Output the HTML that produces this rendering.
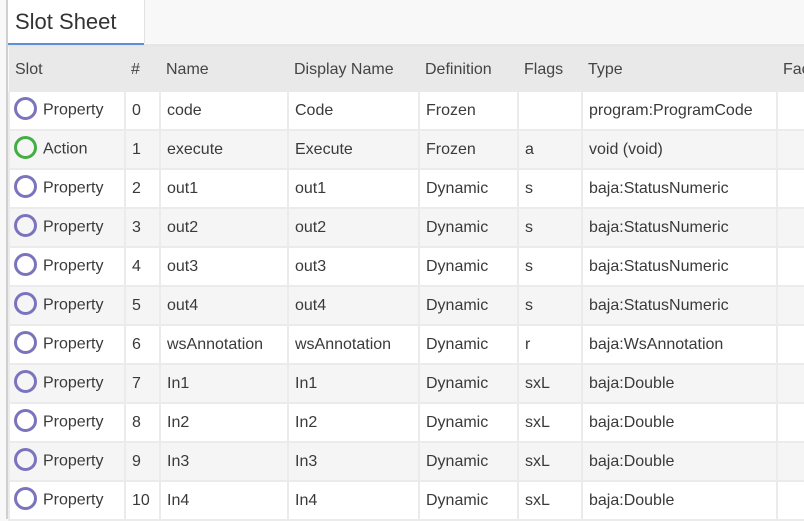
<!DOCTYPE html>
<html><head><meta charset="utf-8"><style>
html,body{margin:0;padding:0;}
body{width:804px;height:519px;overflow:hidden;background:#f8f8f8;font-family:"Liberation Sans",sans-serif;color:#3a3a3a;position:relative;}
.lb{position:absolute;left:6px;top:0;width:2px;height:519px;background:#cfcfcf;}
.tab{position:absolute;left:8px;top:0;width:136px;height:43px;background:#fff;border-right:1px solid #e2e2e2;}
.tab span{position:absolute;left:7px;top:9px;font-size:22px;color:#333;}
.tabline{position:absolute;left:8px;top:43px;width:136px;height:2px;background:#5b8fd6;}
.sep{position:absolute;left:8px;top:44px;width:796px;height:3px;background:#e6e6e6;}
table{position:absolute;left:8px;top:47px;border-collapse:collapse;table-layout:fixed;width:900px;font-size:16px;}
td,th{padding:0 0 0 6px;white-space:nowrap;overflow:hidden;text-align:left;font-weight:normal;}
th{height:45px;background:#e9e9e9;color:#444;}
td{height:37px;border:2px solid #ebebeb;border-top:0;}
tr.o td{background:#f5f5f5;}
tr.e td{background:#fff;}
.c{display:inline-block;width:17px;height:17px;border-radius:50%;border:3px solid #7a74bf;vertical-align:middle;margin:0 6px 0 -2px;position:relative;top:-2px;}
.g{border-color:#44ad44;}
</style></head><body>
<div class="lb"></div>
<div class="tab"><span>Slot Sheet</span></div>
<div class="sep"></div>
<div class="tabline"></div>
<table>
<colgroup><col style="width:116px"><col style="width:35px"><col style="width:128px"><col style="width:131px"><col style="width:99px"><col style="width:64px"><col style="width:195px"><col style="width:132px"></colgroup>
<tr><th>Slot</th><th>#</th><th>Name</th><th>Display Name</th><th>Definition</th><th>Flags</th><th>Type</th><th>Facets</th></tr>
<tr class="e"><td><span class="c"></span>Property</td><td>0</td><td>code</td><td>Code</td><td>Frozen</td><td></td><td>program:ProgramCode</td><td></td></tr>
<tr class="o"><td><span class="c g"></span>Action</td><td>1</td><td>execute</td><td>Execute</td><td>Frozen</td><td>a</td><td>void (void)</td><td></td></tr>
<tr class="e"><td><span class="c"></span>Property</td><td>2</td><td>out1</td><td>out1</td><td>Dynamic</td><td>s</td><td>baja:StatusNumeric</td><td></td></tr>
<tr class="o"><td><span class="c"></span>Property</td><td>3</td><td>out2</td><td>out2</td><td>Dynamic</td><td>s</td><td>baja:StatusNumeric</td><td></td></tr>
<tr class="e"><td><span class="c"></span>Property</td><td>4</td><td>out3</td><td>out3</td><td>Dynamic</td><td>s</td><td>baja:StatusNumeric</td><td></td></tr>
<tr class="o"><td><span class="c"></span>Property</td><td>5</td><td>out4</td><td>out4</td><td>Dynamic</td><td>s</td><td>baja:StatusNumeric</td><td></td></tr>
<tr class="e"><td><span class="c"></span>Property</td><td>6</td><td>wsAnnotation</td><td>wsAnnotation</td><td>Dynamic</td><td>r</td><td>baja:WsAnnotation</td><td></td></tr>
<tr class="o"><td><span class="c"></span>Property</td><td>7</td><td>In1</td><td>In1</td><td>Dynamic</td><td>sxL</td><td>baja:Double</td><td></td></tr>
<tr class="e"><td><span class="c"></span>Property</td><td>8</td><td>In2</td><td>In2</td><td>Dynamic</td><td>sxL</td><td>baja:Double</td><td></td></tr>
<tr class="o"><td><span class="c"></span>Property</td><td>9</td><td>In3</td><td>In3</td><td>Dynamic</td><td>sxL</td><td>baja:Double</td><td></td></tr>
<tr class="e"><td><span class="c"></span>Property</td><td>10</td><td>In4</td><td>In4</td><td>Dynamic</td><td>sxL</td><td>baja:Double</td><td></td></tr>
</table>
</body></html>
